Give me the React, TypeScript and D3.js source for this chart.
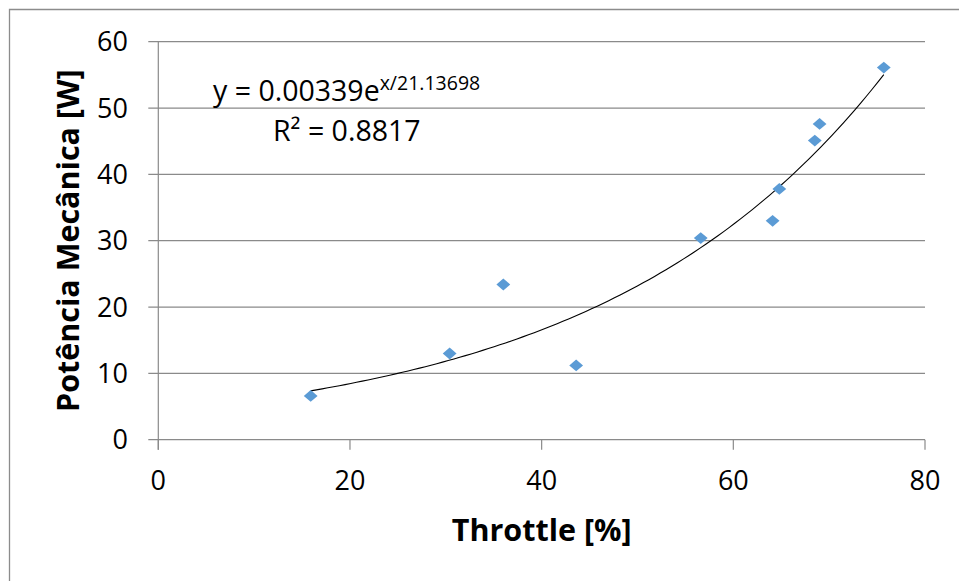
import React from 'react';
import * as d3 from 'd3';

// Throttle [%] vs mechanical power [W]
const throttle = [15.9, 30.4, 36.0, 43.6, 56.6, 64.1, 64.8, 68.5, 69.0, 75.7];
const power = [6.6, 13.0, 23.4, 11.2, 30.4, 33.0, 37.8, 45.1, 47.6, 56.1];
const xTicks = [0, 20, 40, 60, 80];
const yTicks = [0, 10, 20, 30, 40, 50, 60];

const FONT = "'Open Sans', sans-serif";

const App = () => {
  const width = 959;
  const height = 581;
  const margin = { top: 41.7, right: 34, bottom: 141.3, left: 158.3 };

  const x = d3.scaleLinear().domain([0, 80]).range([margin.left, width - margin.right]);
  const y = d3.scaleLinear().domain([0, 60]).range([height - margin.bottom, margin.top]);

  // exponential trendline, least squares on ln(y) (same as a spreadsheet does)
  const pts = throttle.map((t, i) => ({ x: t, y: power[i] }));
  const mx = d3.mean(pts, d => d.x)!;
  const ml = d3.mean(pts, d => Math.log(d.y))!;
  const b = d3.sum(pts, d => (d.x - mx) * (Math.log(d.y) - ml)) / d3.sum(pts, d => (d.x - mx) ** 2);
  const a = Math.exp(ml - b * mx);
  const [xmin, xmax] = d3.extent(throttle) as [number, number];
  const trend = d3.range(0, 101).map(i => {
    const xv = xmin + (xmax - xmin) * i / 100;
    return [xv, a * Math.exp(b * xv)] as [number, number];
  });
  const line = d3.line<[number, number]>().x(d => x(d[0])).y(d => y(d[1]));

  const diamond = d3.symbol().type(d3.symbolDiamond2).size(110)();
  const x0 = x(0);
  const y0 = y(0);
  const gridColor = '#8a8a8a';

  return (
    <svg width={width} height={height} style={{ position: 'absolute', left: 0, top: 0, background: '#fff' }}>
      {/* outer frame */}
      <path d={`M9.5,${height}V9.5H${width}`} fill="none" stroke="#8c8c8c" strokeWidth={1.3} />

      {/* gridlines + y ticks */}
      {yTicks.map(t => (
        <line key={t} x1={x0 - 10} x2={x(80)} y1={y(t)} y2={y(t)} stroke={gridColor} strokeWidth={1.2} />
      ))}
      {/* y axis */}
      <line x1={x0} x2={x0} y1={y(60)} y2={y0 + 10} stroke={gridColor} strokeWidth={1.2} />
      {/* x ticks */}
      {xTicks.map(t => (
        <line key={t} x1={x(t)} x2={x(t)} y1={y0} y2={y0 + 10} stroke={gridColor} strokeWidth={1.2} />
      ))}

      {yTicks.map(t => (
        <text key={t} x={128} y={y(t)} dy="0.36em" textAnchor="end" fontFamily={FONT} fontSize={27} fill="#000">{t}</text>
      ))}
      {xTicks.map(t => (
        <text key={t} x={x(t)} y={490} textAnchor="middle" fontFamily={FONT} fontSize={27} fill="#000">{t}</text>
      ))}

      {/* trendline */}
      <path d={line(trend) ?? ''} fill="none" stroke="#000" strokeWidth={1.1} />

      {/* points */}
      {pts.map((d, i) => (
        <path key={i} d={diamond ?? ''} transform={`translate(${x(d.x)},${y(d.y)}) scale(1.05,0.9)`} fill="#5b9bd5" />
      ))}

      {/* equation */}
      <text x={213} y={101} fontFamily={FONT} fontSize={28.5} fill="#000">
        y = 0.00339e<tspan fontSize={19.5} dy={-11}>x/21.13698</tspan>
      </text>
      <text x={273} y={141} fontFamily={FONT} fontSize={28.5} fill="#000">R² = 0.8817</text>

      {/* axis titles */}
      <text x={(x0 + x(80)) / 2} y={541} textAnchor="middle" fontFamily={FONT} fontSize={30.5} fontWeight="bold" fill="#000">Throttle [%]</text>
      <text transform={`translate(79,${(y(0) + y(60)) / 2}) rotate(-90)`} textAnchor="middle" fontFamily={FONT} fontSize={30.5} fontWeight="bold" fill="#000">Potência Mecânica [W]</text>
    </svg>
  );
};

export default App;
